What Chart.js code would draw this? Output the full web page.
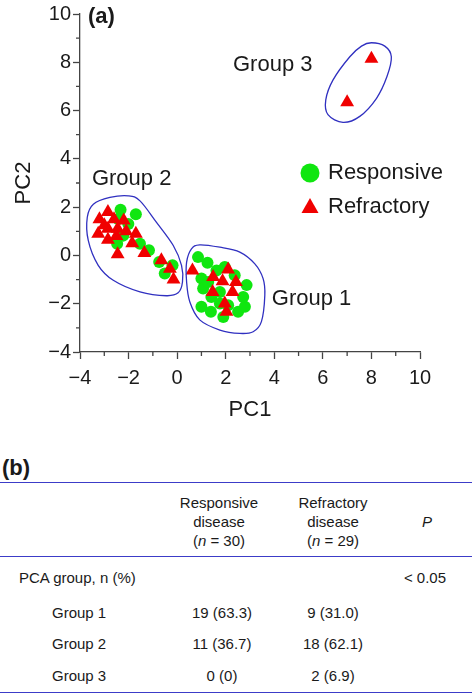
<!DOCTYPE html>
<html>
<head>
<meta charset="utf-8">
<script src="https://cdn.jsdelivr.net/npm/chart.js@4.4.1/dist/chart.umd.min.js"></script>
<style>
  body { margin: 0; background: #fff; font-family: "Liberation Sans", Arial, sans-serif; color: #1a1a1a; }
  #wrap { position: relative; width: 472px; height: 430px; }
  #table { position: relative; width: 472px; height: 265px; }
  .t { position: absolute; font-size: 15px; white-space: nowrap; line-height: 19px; }
  .c { transform: translateX(-50%); text-align: center; }
  .rule { position: absolute; left: 0; width: 472px; height: 0; border-top: 1.5px solid #3c3cc8; }
</style>
</head>
<body>
<div id="wrap"><canvas id="pcaChart"></canvas></div>
<div id="table"></div>
<script>
// PCA scores
const responsivePC1 = [-2.33, -1.70, -2.42, -2.01, -2.22, -2.47, -1.53, -1.16, -0.74, -0.19, -0.51,
  0.86, 1.25, 1.62, 1.00, 1.07, 1.41, 1.00, 1.39, 1.76, 1.76, 2.10, 2.51, 2.79, 2.86, 2.72, 2.37, 1.90, 1.96, 1.28];
const responsivePC2 = [1.89, 1.71, 1.51, 1.30, 0.82, 0.48, 0.48, 0.21, -0.27, -0.41, -0.75,
  -0.07, -0.30, -0.62, -0.96, -1.37, -1.72, -2.13, -2.33, -1.99, -1.51, -2.06, -2.33, -2.13, -1.23, -1.72, -0.82, -2.55, -0.48, -1.10];
const refractoryPC1 = [-3.20, -2.85, -2.60, -3.00, -2.20, -3.25, -2.85, -2.85, -2.50, -2.45, -2.10, -1.85, -1.70, -2.45, -1.35, -0.65, -0.30, -0.15,
  0.63, 1.48, 2.10, 1.87, 2.42, 1.46, 2.28, 1.96, 2.03,
  7.00, 8.00];
const refractoryPC2 = [1.50, 1.80, 1.50, 1.25, 1.45, 0.90, 0.65, 1.10, 0.80, 1.10, 1.00, 0.50, 0.90, 0.05, 0.10, -0.20, -0.55, -1.00,
  -0.62, -0.89, -0.58, -1.07, -1.10, -1.51, -1.51, -1.99, -2.33,
  6.34, 8.15];

// cluster outlines (PC1, PC2)
const group1Outline = [[0.93, 0.44], [1.76, 0.34], [2.58, 0.14], [3.20, -0.35], [3.54, -0.96], [3.61, -1.65], [3.47, -2.74],
  [3.13, -3.16], [2.58, -3.23], [1.76, -3.09], [0.93, -2.67], [0.52, -1.92], [0.39, -1.10], [0.39, -0.28], [0.59, 0.27]];
const group2Outline = [[-3.45, 2.12], [-2.77, 2.40], [-2.01, 2.47], [-1.53, 2.26], [-0.85, 1.37], [-0.16, 0.41], [0.18, -0.41],
  [0.22, -1.10], [0.04, -1.55], [-0.44, -1.67], [-1.53, -1.51], [-2.63, -1.03], [-3.25, -0.41], [-3.66, 0.62], [-3.70, 1.58]];
const group3Outline = [[8.0, 8.81], [8.55, 8.67], [8.82, 8.23], [8.64, 7.41], [8.21, 6.51], [7.52, 5.76], [6.83, 5.51],
  [6.21, 5.83], [6.12, 6.44], [6.42, 7.27], [7.11, 8.23], [7.59, 8.67]];

const groupLabels = ['Group 1', 'Group 2', 'Group 3'];
const groupLabelPos = [[3.90, -1.80], [-3.51, 3.15], [2.30, 7.89]];

const axisMin = -4;
const axisMax = 10;

// table (b)
const tableGroups = ['Group 1', 'Group 2', 'Group 3'];
const responsiveCounts = ['19 (63.3)', '11 (36.7)', '0 (0)'];
const refractoryCounts = ['9 (31.0)', '18 (62.1)', '2 (6.9)'];
const pValue = '< 0.05';

const toPoints = (xs, ys) => xs.map((x, i) => ({x: x, y: ys[i]}));

const FONT = '"Liberation Sans", Arial, sans-serif';
const GREEN = '#10e610';
const RED = '#f00000';
const BLUE = '#3030c0';
const INK = '#1a1a1a';

// closed Catmull-Rom curve through data points
function drawOutline(ctx, xs, ys, pts) {
  const p = pts.map(d => [xs.getPixelForValue(d[0]), ys.getPixelForValue(d[1])]);
  const n = p.length;
  ctx.beginPath();
  ctx.moveTo(p[0][0], p[0][1]);
  for (let i = 0; i < n; i++) {
    const p0 = p[(i - 1 + n) % n], p1 = p[i], p2 = p[(i + 1) % n], p3 = p[(i + 2) % n];
    ctx.bezierCurveTo(
      p1[0] + (p2[0] - p0[0]) / 6, p1[1] + (p2[1] - p0[1]) / 6,
      p2[0] - (p3[0] - p1[0]) / 6, p2[1] - (p3[1] - p1[1]) / 6,
      p2[0], p2[1]);
  }
  ctx.closePath();
  ctx.stroke();
}

const annotations = {
  id: 'annotations',
  afterDatasetsDraw(chart) {
    const {ctx, scales: {x, y}} = chart;
    ctx.save();
    ctx.strokeStyle = BLUE;
    ctx.lineWidth = 1.3;
    [group1Outline, group2Outline, group3Outline].forEach(o => drawOutline(ctx, x, y, o));

    // minor ticks
    ctx.strokeStyle = '#444';
    ctx.lineWidth = 1.3;
    ctx.beginPath();
    for (let v = axisMin + 1; v < axisMax; v += 2) {
      const px = x.getPixelForValue(v);
      ctx.moveTo(px, chart.chartArea.bottom);
      ctx.lineTo(px, chart.chartArea.bottom + 4);
      const py = y.getPixelForValue(v);
      ctx.moveTo(chart.chartArea.left, py);
      ctx.lineTo(chart.chartArea.left - 4, py);
    }
    ctx.stroke();

    ctx.fillStyle = INK;
    ctx.textBaseline = 'middle';
    ctx.textAlign = 'left';
    ctx.font = '22px ' + FONT;
    groupLabels.forEach((g, i) => {
      ctx.fillText(g, x.getPixelForValue(groupLabelPos[i][0]), y.getPixelForValue(groupLabelPos[i][1]));
    });

    ctx.font = 'bold 22px ' + FONT;
    ctx.fillText('(a)', chart.chartArea.left + 8, chart.chartArea.top + 3);

    // legend
    const lx = 310, ly1 = 173, ly2 = 207;
    ctx.fillStyle = GREEN;
    ctx.beginPath();
    ctx.arc(lx, ly1, 9.5, 0, Math.PI * 2);
    ctx.fill();
    ctx.fillStyle = RED;
    ctx.beginPath();
    ctx.moveTo(lx, ly2 - 9);
    ctx.lineTo(lx + 8.5, ly2 + 6);
    ctx.lineTo(lx - 8.5, ly2 + 6);
    ctx.closePath();
    ctx.fill();
    ctx.fillStyle = INK;
    ctx.font = '22px ' + FONT;
    ctx.fillText('Responsive', 328, ly1);
    ctx.fillText('Refractory', 328, ly2);
    ctx.restore();
  }
};

const axisStyle = (title, pad, titlePad, fit) => ({
  type: 'linear',
  min: axisMin,
  max: axisMax,
  border: {color: '#444', width: 1.3},
  grid: {drawOnChartArea: false, drawTicks: true, tickLength: 7, tickColor: '#444', tickWidth: 1.3},
  ticks: {stepSize: 2, color: INK, padding: pad, font: {family: FONT, size: 20},
    callback: v => v < 0 ? '\u2212' + Math.abs(v) : String(v)},
  title: {display: true, text: title, color: INK, font: {family: FONT, size: 22}, padding: titlePad},
  afterFit: fit
});

new Chart(document.getElementById('pcaChart'), {
  type: 'scatter',
  data: {
    datasets: [
      {label: 'Responsive', data: toPoints(responsivePC1, responsivePC2), order: 2,
        pointStyle: 'circle', pointRadius: 6, pointHoverRadius: 6,
        backgroundColor: GREEN, borderColor: GREEN, borderWidth: 0},
      {label: 'Refractory', data: toPoints(refractoryPC1, refractoryPC2), order: 1,
        pointStyle: 'triangle', pointRadius: 8, pointHoverRadius: 8,
        backgroundColor: RED, borderColor: RED, borderWidth: 0}
    ]
  },
  options: {
    responsive: true,
    maintainAspectRatio: false,
    animation: false,
    layout: {padding: {top: 12, right: 52, left: 0, bottom: 0}},
    scales: {
      x: axisStyle('PC1', 7, {top: 0, bottom: 7}, s => { s.height = 78; }),
      y: axisStyle('PC2', 2, {top: 11, bottom: 0}, s => { s.width = 80; })
    },
    plugins: {legend: {display: false}, tooltip: {enabled: false}}
  },
  plugins: [annotations]
});

// table (b)
const tbl = document.getElementById('table');
const add = (html, x, y, cls) => {
  const d = document.createElement('div');
  d.className = 't ' + (cls || '');
  d.style.left = x + 'px';
  d.style.top = (y - 9.5) + 'px';
  d.innerHTML = html;
  tbl.appendChild(d);
};
const rule = y => {
  const d = document.createElement('div');
  d.className = 'rule';
  d.style.top = y + 'px';
  tbl.appendChild(d);
};
const T0 = 430;
add('<b style="font-size:22px">(b)</b>', 2, 469 - T0 - 2);
rule(482 - T0);
add('Responsive<br>disease<br>(<i>n</i> = 30)', 219, 502 - T0, 'c');
add('Refractory<br>disease<br>(<i>n</i> = 29)', 333, 502 - T0, 'c');
add('<i>P</i>', 427, 521 - T0, 'c');
rule(556 - T0);
add('PCA group, n&nbsp;(%)', 19, 577 - T0);
add(pValue, 425, 577 - T0, 'c');
const rowY = [612, 643, 675];
tableGroups.forEach((g, i) => {
  add(g, 52, rowY[i] - T0);
  add(responsiveCounts[i], 222, rowY[i] - T0, 'c');
  add(refractoryCounts[i], 333, rowY[i] - T0, 'c');
});
rule(692 - T0);
</script>
</body>
</html>
